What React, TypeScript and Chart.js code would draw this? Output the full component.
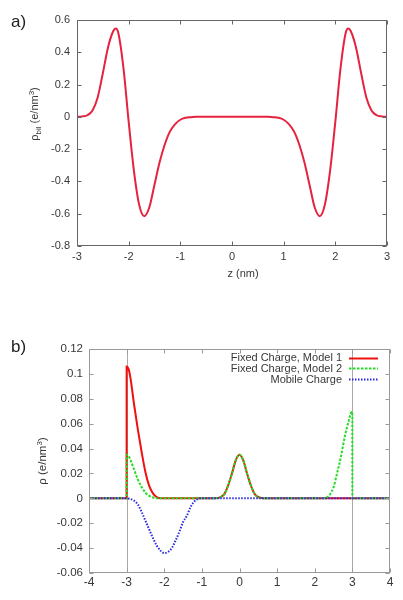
import React, { useEffect, useRef } from "react";
import { Chart, registerables } from "chart.js";
Chart.register(...registerables);

const FONT = '"Liberation Sans", Arial, Helvetica, sans-serif';

// ---------- Panel a: bilayer charge density ----------
const zA = [
  -3, -2.9, -2.8, -2.7, -2.6, -2.5, -2.4, -2.3, -2.25, -2.2, -2.1, -2.0, -1.9, -1.8, -1.7, -1.6, -1.5, -1.4,
  -1.3, -1.2, -1.1, -1.0, -0.9, -0.8, -0.7, -0.5, 0, 0.5, 0.7, 0.8, 0.9, 1.0, 1.1, 1.2, 1.3, 1.4, 1.5, 1.6,
  1.7, 1.8, 1.9, 2.0, 2.1, 2.2, 2.25, 2.3, 2.4, 2.5, 2.6, 2.7, 2.8, 2.9, 3,
];
const rhoBil = [
  0, 0.003, 0.01, 0.04, 0.12, 0.27, 0.43, 0.53, 0.548, 0.52, 0.3, -0.03, -0.33, -0.54, -0.615, -0.56, -0.42, -0.28,
  -0.17, -0.09, -0.045, -0.018, -0.006, -0.002, 0, 0, 0, 0, 0, -0.002, -0.006, -0.018, -0.045, -0.09, -0.17, -0.28, -0.42, -0.56,
  -0.615, -0.54, -0.33, -0.03, 0.3, 0.52, 0.548, 0.53, 0.43, 0.27, 0.12, 0.04, 0.01, 0.003, 0,
];
const xTicksA = [-3, -2, -1, 0, 1, 2, 3];
const yTicksA = [-0.8, -0.6, -0.4, -0.2, 0, 0.2, 0.4, 0.6];

// ---------- Panel b: fixed and mobile charges ----------
const model1Z = [
  -4, -3, -3, -2.95, -2.9, -2.8, -2.7, -2.6, -2.5, -2.4, -2.3, -2.2, -2.1,
  -0.8, -0.7, -0.6, -0.5, -0.4, -0.3, -0.2, -0.1, 0, 0.1, 0.2, 0.3, 0.4, 0.5, 0.6, 0.7, 0.8, 4,
];
const model1Rho = [
  0, 0, 0.106, 0.104, 0.097, 0.075, 0.055, 0.037, 0.021, 0.01, 0.004, 0.001, 0,
  0, 0, 0.0002, 0.001, 0.0036, 0.0105, 0.02, 0.0305, 0.035, 0.0305, 0.02, 0.0105, 0.0036, 0.001, 0.0002, 0, 0, 0,
];
const model2Z = [
  -4, -3, -3, -2.95, -2.9, -2.8, -2.7, -2.6, -2.5, -2.4, -2.3, -2.2,
  -0.8, -0.7, -0.6, -0.5, -0.4, -0.3, -0.2, -0.1, 0, 0.1, 0.2, 0.3, 0.4, 0.5, 0.6, 0.7, 0.8,
  2.2, 2.3, 2.4, 2.5, 2.6, 2.7, 2.8, 2.9, 2.97, 3, 3, 4,
];
const model2Rho = [
  0, 0, 0.035, 0.034, 0.031, 0.023, 0.015, 0.009, 0.0045, 0.002, 0.0007, 0,
  0, 0, 0.0002, 0.001, 0.0036, 0.0105, 0.02, 0.0305, 0.035, 0.0305, 0.02, 0.0105, 0.0036, 0.001, 0.0002, 0, 0,
  0, 0.0005, 0.003, 0.009, 0.021, 0.034, 0.05, 0.062, 0.069, 0.0695, 0, 0,
];
const mobileZ = [
  -4, -3, -2.9, -2.8, -2.7, -2.6, -2.5, -2.4, -2.3, -2.2, -2.1, -2.0, -1.9, -1.8, -1.7, -1.6, -1.5, -1.4,
  -1.3, -1.2, -1.1, -1.0, 4,
];
const mobileRho = [
  0, 0, -0.0005, -0.002, -0.005, -0.011, -0.018, -0.025, -0.032, -0.038, -0.042, -0.044, -0.043, -0.04, -0.034, -0.027, -0.019, -0.014,
  -0.007, -0.0025, -0.0005, 0, 0,
];
const seriesLabels = ["Fixed Charge, Model 1", "Fixed Charge, Model 2", "Mobile Charge"];
const xTicksB = [-4, -3, -2, -1, 0, 1, 2, 3, 4];
const yTicksB = [-0.06, -0.04, -0.02, 0, 0.02, 0.04, 0.06, 0.08, 0.1, 0.12];
const boundaryLines = [-3, 3];

const pts = (xs: number[], ys: number[]) => xs.map((x, i) => ({ x, y: ys[i] }));

type Part = { text: string; size: number; dy: number };

function drawRich(ctx: CanvasRenderingContext2D, parts: Part[], cx: number, cy: number, rotate: boolean, color: string) {
  ctx.save();
  ctx.translate(cx, cy);
  if (rotate) ctx.rotate(-Math.PI / 2);
  ctx.fillStyle = color;
  ctx.textBaseline = "alphabetic";
  ctx.textAlign = "left";
  let total = 0;
  for (const p of parts) {
    ctx.font = `${p.size}px ${FONT}`;
    total += ctx.measureText(p.text).width;
  }
  let x = -total / 2;
  for (const p of parts) {
    ctx.font = `${p.size}px ${FONT}`;
    ctx.fillText(p.text, x, 4 + p.dy);
    x += ctx.measureText(p.text).width;
  }
  ctx.restore();
}

const framePlugin = {
  id: "frame",
  beforeDatasetsDraw(chart: any, _a: any, opts: any) {
    const { ctx, chartArea: a, scales } = chart;
    if (opts.vlines) {
      ctx.save();
      ctx.strokeStyle = opts.vlineColor;
      ctx.lineWidth = 1;
      for (const v of opts.vlines) {
        const px = Math.round(scales.x.getPixelForValue(v)) + 0.5;
        ctx.beginPath();
        ctx.moveTo(px, a.top);
        ctx.lineTo(px, a.bottom);
        ctx.stroke();
      }
      ctx.restore();
    }
  },
  afterDraw(chart: any, _a: any, opts: any) {
    const { ctx, chartArea: a, scales } = chart;
    ctx.save();
    ctx.strokeStyle = opts.color;
    ctx.lineWidth = 1;
    const L = Math.round(a.left) + 0.5;
    const R = Math.round(a.right) - 0.5;
    const T = Math.round(a.top) + 0.5;
    const B = Math.round(a.bottom) - 0.5;
    ctx.strokeRect(L, T, R - L, B - T);
    ctx.beginPath();
    const t = opts.tick;
    for (const tk of scales.x.ticks) {
      const px = Math.round(scales.x.getPixelForValue(tk.value)) + 0.5;
      ctx.moveTo(px, B);
      ctx.lineTo(px, B - t);
      ctx.moveTo(px, T);
      ctx.lineTo(px, T + t);
    }
    for (const tk of scales.y.ticks) {
      const py = Math.round(scales.y.getPixelForValue(tk.value)) + 0.5;
      ctx.moveTo(L, py);
      ctx.lineTo(L + t, py);
      ctx.moveTo(R, py);
      ctx.lineTo(R - t, py);
    }
    ctx.stroke();
    ctx.restore();
    if (opts.xTitle) drawRich(ctx, opts.xTitle.parts, opts.xTitle.x, opts.xTitle.y, false, opts.textColor);
    if (opts.yTitle) drawRich(ctx, opts.yTitle.parts, opts.yTitle.x, opts.yTitle.y, true, opts.textColor);
    if (opts.legend) {
      const lg = opts.legend;
      ctx.save();
      ctx.font = `11px ${FONT}`;
      ctx.textAlign = "right";
      ctx.textBaseline = "middle";
      chart.data.datasets.forEach((ds: any, i: number) => {
        const y = lg.top + i * lg.step;
        ctx.fillStyle = opts.textColor;
        ctx.fillText(ds.label, lg.textRight, y + 0.5);
        ctx.strokeStyle = ds.borderColor;
        ctx.lineWidth = ds.borderWidth;
        ctx.setLineDash(ds.borderDash || []);
        ctx.beginPath();
        ctx.moveTo(lg.lineStart, Math.round(y) + 0.5);
        ctx.lineTo(lg.lineEnd, Math.round(y) + 0.5);
        ctx.stroke();
      });
      ctx.restore();
    }
  },
};

function fixedScale(min: number, max: number, ticks: number[], axis: "x" | "y", size: number, padding: number, fontSize: number) {
  return {
    type: "linear" as const,
    min,
    max,
    grid: { display: false, drawTicks: false },
    border: { display: false },
    ticks: {
      padding,
      color: "#383838",
      font: { family: FONT, size: fontSize },
      autoSkip: false,
      maxRotation: 0,
      callback: (v: any) => String(v),
    },
    afterBuildTicks: (s: any) => {
      s.ticks = ticks.map((value) => ({ value }));
    },
    afterFit: (s: any) => {
      if (axis === "y") s.width = size;
      else s.height = size;
      s.paddingTop = 0;
      s.paddingBottom = 0;
      s.paddingLeft = 0;
      s.paddingRight = 0;
    },
  };
}

function PanelA() {
  const ref = useRef<HTMLCanvasElement>(null);
  useEffect(() => {
    const chart = new Chart(ref.current!, {
      type: "line",
      data: {
        datasets: [
          {
            label: "rho_bil",
            data: pts(zA, rhoBil),
            borderColor: "#e6233f",
            borderWidth: 2,
            pointRadius: 0,
            cubicInterpolationMode: "monotone",
            fill: false,
          },
        ],
      },
      options: {
        responsive: false,
        animation: false,
        events: [],
        layout: { padding: { left: 0, right: 16, top: 20, bottom: 0 } },
        scales: {
          x: fixedScale(-3, 3, xTicksA, "x", 44, 4, 11),
          y: fixedScale(-0.8, 0.6, yTicksA, "y", 77, 7, 11),
        },
        plugins: {
          legend: { display: false },
          tooltip: { enabled: false },
          frame: {
            color: "#666",
            tick: 4,
            textColor: "#383838",
            xTitle: { x: 243, y: 273, parts: [{ text: "z (nm)", size: 11, dy: 0 }] },
            yTitle: {
              x: 34,
              y: 114,
              parts: [
                { text: "ρ", size: 11, dy: 0 },
                { text: "bil", size: 8, dy: 2.5 },
                { text: " (e/nm", size: 11, dy: 0 },
                { text: "3", size: 8, dy: -4 },
                { text: ")", size: 11, dy: 0 },
              ],
            },
          },
        } as any,
      },
      plugins: [framePlugin as any],
    });
    return () => chart.destroy();
  }, []);
  return <canvas ref={ref} width={403} height={290} style={{ display: "block" }} />;
}

function PanelB() {
  const ref = useRef<HTMLCanvasElement>(null);
  useEffect(() => {
    const chart = new Chart(ref.current!, {
      type: "line",
      data: {
        datasets: [
          {
            label: seriesLabels[0],
            data: pts(model1Z, model1Rho),
            borderColor: "#f01010",
            borderWidth: 2,
            pointRadius: 0,
            cubicInterpolationMode: "monotone",
            order: 3,
          },
          {
            label: seriesLabels[1],
            data: pts(model2Z, model2Rho),
            borderColor: "#22dd22",
            borderWidth: 2,
            borderDash: [2.5, 1.5],
            pointRadius: 0,
            cubicInterpolationMode: "monotone",
            order: 2,
          },
          {
            label: seriesLabels[2],
            data: pts(mobileZ, mobileRho),
            borderColor: "#2a2ae0",
            borderWidth: 2,
            borderDash: [1.5, 1.5],
            pointRadius: 0,
            cubicInterpolationMode: "monotone",
            order: 1,
          },
        ],
      },
      options: {
        responsive: false,
        animation: false,
        events: [],
        layout: { padding: { left: 0, right: 13, top: 49, bottom: 0 } },
        scales: {
          x: fixedScale(-4, 4, xTicksB, "x", 27, 2, 12),
          y: fixedScale(-0.06, 0.12, yTicksB, "y", 89, 6, 11.5),
        },
        plugins: {
          legend: { display: false },
          tooltip: { enabled: false },
          frame: {
            color: "#999",
            tick: 4,
            textColor: "#383838",
            vlines: boundaryLines,
            vlineColor: "#aaa",
            yTitle: {
              x: 42,
              y: 161,
              parts: [
                { text: "ρ", size: 11.5, dy: 0 },
                { text: " (e/nm", size: 11.5, dy: 0 },
                { text: "3", size: 8, dy: -4.5 },
                { text: ")", size: 11.5, dy: 0 },
              ],
            },
            legend: { textRight: 342, lineStart: 349, lineEnd: 378, top: 57.7, step: 10.7 },
          },
        } as any,
      },
      plugins: [framePlugin as any],
    });
    return () => chart.destroy();
  }, []);
  return <canvas ref={ref} width={403} height={300} style={{ display: "block" }} />;
}

export default function App() {
  const lbl: React.CSSProperties = {
    position: "absolute",
    left: 11,
    fontFamily: FONT,
    fontSize: 17,
    color: "#222",
    lineHeight: "normal",
  };
  return (
    <div style={{ position: "absolute", left: 0, top: 0, width: 403, height: 600, background: "#fff" }}>
      <div style={{ position: "absolute", left: 0, top: 0 }}>
        <PanelA />
      </div>
      <div style={{ position: "absolute", left: 0, top: 300 }}>
        <PanelB />
      </div>
      <div style={{ ...lbl, top: 12 }}>a)</div>
      <div style={{ ...lbl, top: 337 }}>b)</div>
    </div>
  );
}
